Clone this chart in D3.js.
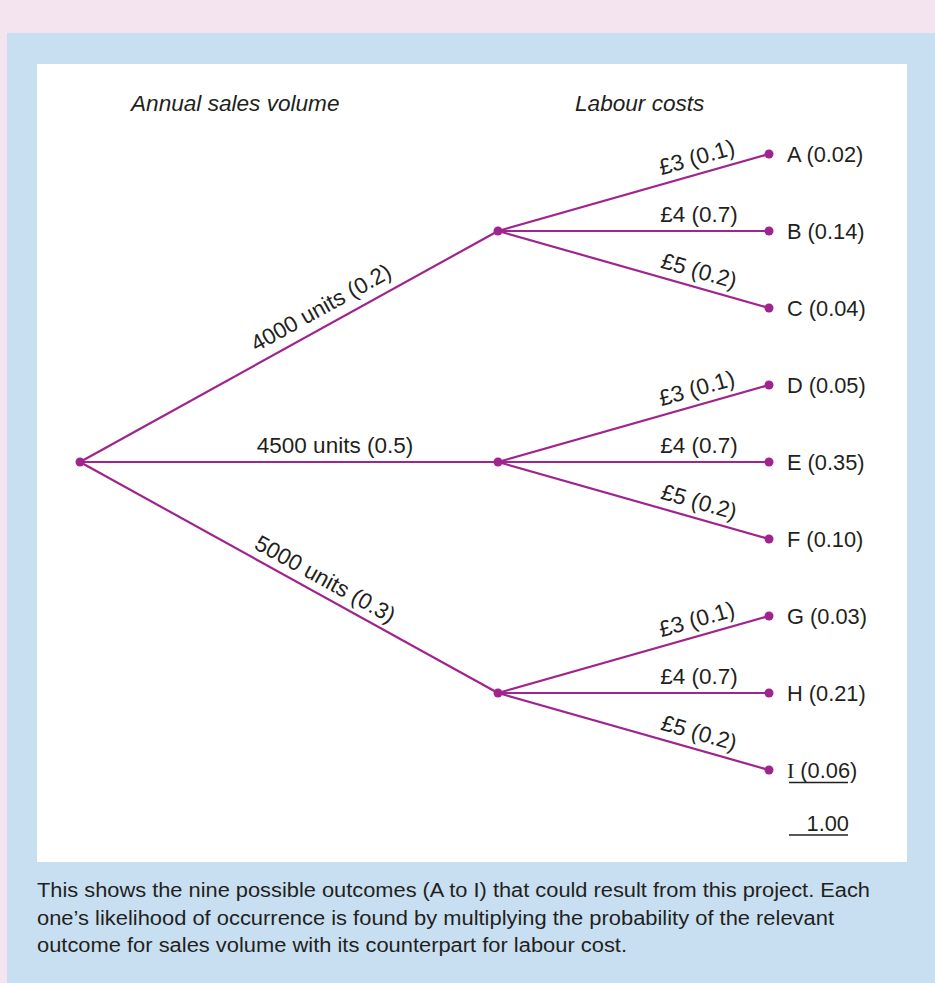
<!DOCTYPE html>
<html><head><meta charset="utf-8">
<script src="https://cdn.jsdelivr.net/npm/d3@7"></script>
<style>html,body{margin:0;padding:0;background:#f3e4ef;}svg{display:block;}</style>
</head><body>
<script>
// ---- data ----
const headers = ["Annual sales volume", "Labour costs"];
const volumes = ["4000 units", "4500 units", "5000 units"];
const volumeProbs = [0.2, 0.5, 0.3];
const costs = ["£3", "£4", "£5"];
const costProbs = [0.1, 0.7, 0.2];
const outcomes = ["A", "B", "C", "D", "E", "F", "G", "H", "I"];
const outcomeProbs = [0.02, 0.14, 0.04, 0.05, 0.35, 0.10, 0.03, 0.21, 0.06];
const totalLabel = "1.00";
const captionLines = [
  "This shows the nine possible outcomes (A to I) that could result from this project. Each",
  "one’s likelihood of occurrence is found by multiplying the probability of the relevant",
  "outcome for sales volume with its counterpart for labour cost."
];

// ---- layout ----
const W = 935, H = 983;
const purple = "#a0248e", ink = "#231f20";
const font = "'Liberation Sans', Arial, Helvetica, sans-serif";
const svg = d3.select("body").append("svg").attr("width", W).attr("height", H);
svg.append("rect").attr("width", W).attr("height", H).attr("fill", "#f3e4ef");
svg.append("rect").attr("x", 7).attr("y", 33).attr("width", W - 7).attr("height", H - 33).attr("fill", "#c8dff2");
svg.append("rect").attr("x", 37).attr("y", 64).attr("width", 870).attr("height", 798).attr("fill", "#fff");

const x = d3.scaleLinear().domain([0, 1, 2]).range([80, 498, 769]);
const y = d3.scalePoint().domain(outcomes).range([154, 770]);

// build tree
const leaves = outcomes.map((o, i) => ({name: o, p: outcomeProbs[i], x: x(2), y: y(o), cost: i % 3, vol: Math.floor(i / 3)}));
const mids = volumes.map((v, j) => ({name: v, p: volumeProbs[j], x: x(1), y: y(outcomes[j * 3 + 1])}));
const root = {x: x(0), y: d3.mean(mids, d => d.y)};

const fmt1 = d3.format(".1f"), fmt2 = d3.format(".2f");
const g = svg.append("g");

// headers
g.selectAll("text.hdr").data(headers).join("text")
  .attr("x", (d, i) => i === 0 ? 131 : 575).attr("y", 111)
  .attr("font-family", font).attr("font-style", "italic").attr("font-size", 22.6).attr("fill", ink)
  .text(d => d);

function branch(a, b, label, frac, off) {
  g.append("line").attr("x1", a.x).attr("y1", a.y).attr("x2", b.x).attr("y2", b.y)
    .attr("stroke", purple).attr("stroke-width", 2.2);
  const ang = Math.atan2(b.y - a.y, b.x - a.x);
  const px = a.x + (b.x - a.x) * frac, py = a.y + (b.y - a.y) * frac;
  const ox = px + Math.sin(ang) * off, oy = py - Math.cos(ang) * off;
  g.append("text").attr("transform", `translate(${ox},${oy}) rotate(${ang * 180 / Math.PI})`)
    .attr("text-anchor", "middle").attr("font-family", font).attr("font-size", 22.5).attr("fill", ink)
    .text(label);
}
const volFrac = [0.598, 0.61, 0.568];
const volOff = [11, 9, 8.5];
mids.forEach((m, j) => branch(root, m, `${m.name} (${fmt1(m.p)})`, volFrac[j], volOff[j]));
const costFrac = [0.75, 0.742, 0.725];
leaves.forEach(l => {
  const m = mids[l.vol];
  branch(m, l, `${costs[l.cost]} (${fmt1(costProbs[l.cost])})`, costFrac[l.cost], 9);
});

// dots
g.selectAll("circle").data([root, ...mids, ...leaves]).join("circle")
  .attr("cx", d => d.x).attr("cy", d => d.y).attr("r", 4.5).attr("fill", purple);

// outcome labels
const ot = g.selectAll("text.out").data(leaves).join("text")
  .attr("x", d => d.x + 18).attr("y", d => d.y + 7.5)
  .attr("font-family", font).attr("font-size", 21.8).attr("fill", ink);
ot.each(function(d, i) {
  const t = d3.select(this);
  if (d.name === "I") {
    t.append("tspan").attr("font-family", "'Liberation Serif', serif").text(d.name);
    t.append("tspan").text(` (${fmt2(d.p)})`);
  } else t.text(`${d.name} (${fmt2(d.p)})`);
});
const last = leaves[leaves.length - 1];
g.append("line").attr("x1", last.x + 20).attr("x2", last.x + 79).attr("y1", last.y + 12.5).attr("y2", last.y + 12.5)
  .attr("stroke", ink).attr("stroke-width", 1.3);
g.append("text").attr("x", last.x + 80).attr("y", last.y + 61).attr("text-anchor", "end")
  .attr("font-family", font).attr("font-size", 21.8).attr("fill", ink).text(totalLabel);
g.append("line").attr("x1", last.x + 20).attr("x2", last.x + 79).attr("y1", last.y + 65).attr("y2", last.y + 65)
  .attr("stroke", ink).attr("stroke-width", 1.3);

// caption
const capW = [833, 797, 590];
captionLines.forEach((line, i) => {
  svg.append("text").attr("x", 37).attr("y", 897 + i * 27.5)
    .attr("font-family", font).attr("font-size", 19.5).attr("fill", ink)
    .attr("textLength", capW[i]).attr("lengthAdjust", "spacingAndGlyphs")
    .text(line);
});
</script>
</body></html>
